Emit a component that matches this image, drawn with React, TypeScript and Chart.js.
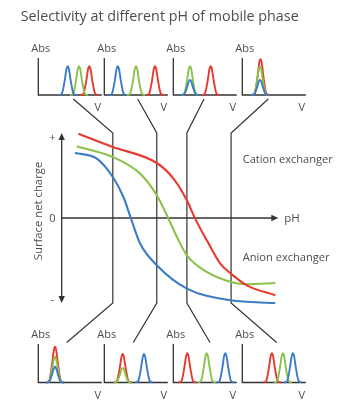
import { useEffect, useRef } from 'react';
import { Chart, registerables } from 'chart.js';
Chart.register(...registerables);

// ---------- DATA ----------
const TITLE = 'Selectivity at different pH of mobile phase';
const Y_LABEL = 'Surface net charge';
const X_LABEL = 'pH';
const CATION_LABEL = 'Cation exchanger';
const ANION_LABEL = 'Anion exchanger';
const Y_TICK_VALUES = [1, 0, -1];
const Y_TICK_LABELS = ['+', '0', '-'];
const SMALL_Y_LABEL = 'Abs';
const SMALL_X_LABEL = 'V';

// surface net charge curves (pH, charge)
const PH_RED = [0.77, 2.36, 4.39, 5.16, 5.78, 6.16, 6.7, 7.32, 7.81, 8.55, 9.86];
const CHARGE_RED = [0.99, 0.835, 0.647, 0.464, 0.208, -0.007, -0.262, -0.536, -0.654, -0.792, -0.909];
const PH_GREEN = [0.69, 2.36, 3.62, 4.39, 4.93, 5.32, 5.78, 6.7, 7.81, 8.55, 9.86];
const CHARGE_GREEN = [0.844, 0.718, 0.522, 0.267, -0.007, -0.224, -0.439, -0.635, -0.753, -0.78, -0.765];
const PH_BLUE = [0.61, 1.62, 2.36, 2.85, 3.19, 3.62, 4.39, 5.78, 7.81, 9.86];
const CHARGE_BLUE = [0.765, 0.699, 0.482, 0.247, 0, -0.301, -0.556, -0.831, -0.968, -1.0];

// pH values chosen for the four chromatograms
const SELECTED_PH = [2.36, 4.39, 5.78, 7.82];

// chromatogram peaks (retention volume, absorbance), top row (anion exchanger)
const TOP_BLUE_V = [29.4, 13.5, 16.7, 17.7];
const TOP_BLUE_A = [0.78, 0.78, 0.41, 0.41];
const TOP_GREEN_V = [40.7, 31.7, 16.7, 17.7];
const TOP_GREEN_A = [0.78, 0.78, 0.78, 0.77];
const TOP_RED_V = [51, 50.7, 37.4, 18.2];
const TOP_RED_A = [0.78, 0.78, 0.78, 0.97];
// bottom row (cation exchanger)
const BOT_RED_V = [16.7, 18.4, 14, 29.6];
const BOT_RED_A = [0.93, 0.74, 0.76, 0.76];
const BOT_GREEN_V = [16.7, 18.4, 33.4, 40.6];
const BOT_GREEN_A = [0.67, 0.38, 0.76, 0.76];
const BOT_BLUE_V = [16.7, 39.7, 52, 50.6];
const BOT_BLUE_A = [0.41, 0.74, 0.76, 0.76];

// ---------- STYLE / LAYOUT ----------
const W = 354;
const H = 408;
const RED = '#e63a2e';
const GREEN = '#8bc24a';
const BLUE = '#3a7cc6';
const AXIS = '#333333';
const TEXT = '#4d4d4d';
const FONT = '"Open Sans", "DejaVu Sans", sans-serif';

const MAIN_AREA = { left: 61.7, top: 133, right: 278.3, bottom: 303 };
const SMALL_LEFTS = [38.3, 104.3, 173.3, 242.3];
const SMALL_WIDTH = 63.5;
const SMALL_V_MAX = 63.5;
const TOP_ROW = { top: 58, bottom: 95 };
const BOT_ROW = { top: 344, bottom: 382.5 };
const TOP_LINK_X = [73.3, 137.7, 204, 268.3];
const TOP_LINK_Y = 99;
const BOT_LINK_X = [66.7, 133.3, 210, 276.7];
const BOT_LINK_Y = 342.5;

// peak profile shape (offset in V, relative height)
const PEAK_OFFSETS = [-9, -5.8, -3, -1.2, 0, 1.2, 3, 5.8, 9];
const PEAK_SHAPE = [0, 0.05, 0.5, 0.9, 1, 0.9, 0.5, 0.05, 0];

function pairs(xs: number[], ys: number[]) {
  return xs.map((x, i) => ({ x, y: ys[i] }));
}

function peak(v: number, a: number) {
  return PEAK_OFFSETS.map((o, i) => ({ x: v + o, y: a * PEAK_SHAPE[i] }));
}

function arrowHead(ctx: CanvasRenderingContext2D, x: number, y: number, dx: number, dy: number) {
  const len = 7;
  const hw = 3.2;
  const px = -dy;
  const py = dx;
  ctx.beginPath();
  ctx.moveTo(x, y);
  ctx.lineTo(x - dx * len + px * hw, y - dy * len + py * hw);
  ctx.lineTo(x - dx * len - px * hw, y - dy * len - py * hw);
  ctx.closePath();
  ctx.fill();
}

const mainDecor = {
  id: 'mainDecor',
  beforeDatasetsDraw(chart: any) {
    const { ctx, chartArea: a, scales } = chart;
    const xs = scales.x;
    const ys = scales.y;
    ctx.save();
    ctx.strokeStyle = AXIS;
    ctx.fillStyle = AXIS;
    ctx.lineWidth = 1.3;
    const x0 = xs.getPixelForValue(0);
    const y0 = ys.getPixelForValue(0);
    ctx.beginPath();
    ctx.moveTo(x0, a.top + 5);
    ctx.lineTo(x0, a.bottom - 5);
    ctx.stroke();
    arrowHead(ctx, x0, a.top, 0, -1);
    arrowHead(ctx, x0, a.bottom, 0, 1);
    ctx.beginPath();
    ctx.moveTo(x0, y0);
    ctx.lineTo(a.right - 5, y0);
    ctx.stroke();
    arrowHead(ctx, a.right, y0, 1, 0);
    ctx.lineWidth = 1.2;
    SELECTED_PH.forEach((ph, i) => {
      const px = xs.getPixelForValue(ph);
      ctx.beginPath();
      ctx.moveTo(TOP_LINK_X[i], TOP_LINK_Y);
      ctx.lineTo(px, a.top);
      ctx.lineTo(px, a.bottom);
      ctx.lineTo(BOT_LINK_X[i], BOT_LINK_Y);
      ctx.stroke();
    });
    ctx.restore();
  },
  afterDatasetsDraw(chart: any) {
    const { ctx, chartArea: a, scales } = chart;
    const ys = scales.y;
    ctx.save();
    ctx.fillStyle = TEXT;
    ctx.textBaseline = 'middle';
    ctx.font = `14.3px ${FONT}`;
    ctx.textAlign = 'left';
    ctx.fillText(TITLE, 20.7, 17);
    ctx.font = `11px ${FONT}`;
    ctx.textAlign = 'center';
    const tickOffsets = [5, 1, -3];
    Y_TICK_VALUES.forEach((v, i) => {
      ctx.fillText(Y_TICK_LABELS[i], 52.5, ys.getPixelForValue(v) + tickOffsets[i]);
    });
    ctx.font = `11.5px ${FONT}`;
    ctx.textAlign = 'left';
    ctx.fillText(X_LABEL, a.right + 6, ys.getPixelForValue(0) + 1);
    ctx.font = `11.1px ${FONT}`;
    ctx.fillText(CATION_LABEL, 242.7, 160);
    ctx.fillText(ANION_LABEL, 242.7, 258);
    ctx.font = `11.3px ${FONT}`;
    ctx.translate(39, 211);
    ctx.rotate(-Math.PI / 2);
    ctx.textAlign = 'center';
    ctx.fillText(Y_LABEL, 0, 0);
    ctx.restore();
  },
};

const smallDecor = {
  id: 'smallDecor',
  beforeDatasetsDraw(chart: any) {
    const { ctx, chartArea: a } = chart;
    ctx.save();
    ctx.strokeStyle = AXIS;
    ctx.lineWidth = 1.3;
    ctx.beginPath();
    ctx.moveTo(a.left, a.top);
    ctx.lineTo(a.left, a.bottom);
    ctx.lineTo(a.right, a.bottom);
    ctx.stroke();
    ctx.fillStyle = TEXT;
    ctx.font = `11px ${FONT}`;
    ctx.textAlign = 'center';
    ctx.textBaseline = 'middle';
    ctx.fillText(SMALL_Y_LABEL, a.left + 2.5, a.top - 9);
    ctx.fillText(SMALL_X_LABEL, a.right - 4, a.bottom + 13);
    ctx.restore();
  },
};

function lineDs(data: { x: number; y: number }[], color: string, width: number) {
  return {
    data,
    borderColor: color,
    borderWidth: width,
    pointRadius: 0,
    fill: false,
    cubicInterpolationMode: 'monotone' as const,
    clip: false as any,
  };
}

function makeSmall(canvas: HTMLCanvasElement, idx: number, row: { top: number; bottom: number }, ds: any[]) {
  const left = SMALL_LEFTS[idx];
  return new Chart(canvas, {
    type: 'line',
    data: { datasets: ds },
    options: {
      animation: false,
      responsive: false,
      devicePixelRatio: 1,
      layout: { padding: { left, top: row.top, right: W - left - SMALL_WIDTH, bottom: H - row.bottom } },
      scales: {
        x: { type: 'linear', min: 0, max: SMALL_V_MAX, display: false },
        y: { type: 'linear', min: 0, max: 1, display: false },
      },
      plugins: { legend: { display: false }, tooltip: { enabled: false }, title: { display: false } },
      events: [],
    },
    plugins: [smallDecor],
  });
}

export default function App() {
  const mainRef = useRef<HTMLCanvasElement>(null);
  const topRefs = useRef<(HTMLCanvasElement | null)[]>([]);
  const botRefs = useRef<(HTMLCanvasElement | null)[]>([]);

  useEffect(() => {
    const charts: Chart[] = [];
    charts.push(
      new Chart(mainRef.current!, {
        type: 'line',
        data: {
          datasets: [
            lineDs(pairs(PH_RED, CHARGE_RED), RED, 2.1),
            lineDs(pairs(PH_GREEN, CHARGE_GREEN), GREEN, 2.1),
            lineDs(pairs(PH_BLUE, CHARGE_BLUE), BLUE, 2.1),
          ],
        },
        options: {
          animation: false,
          responsive: false,
          devicePixelRatio: 1,
          layout: {
            padding: {
              left: MAIN_AREA.left,
              top: MAIN_AREA.top,
              right: W - MAIN_AREA.right,
              bottom: H - MAIN_AREA.bottom,
            },
          },
          scales: {
            x: { type: 'linear', min: 0, max: 10, display: false },
            y: { type: 'linear', min: -1, max: 1, display: false },
          },
          plugins: { legend: { display: false }, tooltip: { enabled: false } },
          events: [],
        },
        plugins: [mainDecor],
      })
    );
    for (let i = 0; i < 4; i++) {
      charts.push(
        makeSmall(topRefs.current[i]!, i, TOP_ROW, [
          lineDs(peak(TOP_BLUE_V[i], TOP_BLUE_A[i]), BLUE, 1.9),
          lineDs(peak(TOP_GREEN_V[i], TOP_GREEN_A[i]), GREEN, 1.9),
          lineDs(peak(TOP_RED_V[i], TOP_RED_A[i]), RED, 1.9),
        ])
      );
      charts.push(
        makeSmall(botRefs.current[i]!, i, BOT_ROW, [
          lineDs(peak(BOT_BLUE_V[i], BOT_BLUE_A[i]), BLUE, 1.9),
          lineDs(peak(BOT_GREEN_V[i], BOT_GREEN_A[i]), GREEN, 1.9),
          lineDs(peak(BOT_RED_V[i], BOT_RED_A[i]), RED, 1.9),
        ])
      );
    }
    return () => charts.forEach((c) => c.destroy());
  }, []);

  const cs: React.CSSProperties = { position: 'absolute', left: 0, top: 0, width: W, height: H };
  return (
    <div style={{ position: 'fixed', left: 0, top: 0, width: W, height: H, background: '#fff' }}>
      <canvas ref={mainRef} width={W} height={H} style={cs} />
      {[0, 1, 2, 3].map((i) => (
        <canvas key={'t' + i} ref={(el) => { topRefs.current[i] = el; }} width={W} height={H} style={cs} />
      ))}
      {[0, 1, 2, 3].map((i) => (
        <canvas key={'b' + i} ref={(el) => { botRefs.current[i] = el; }} width={W} height={H} style={cs} />
      ))}
    </div>
  );
}
